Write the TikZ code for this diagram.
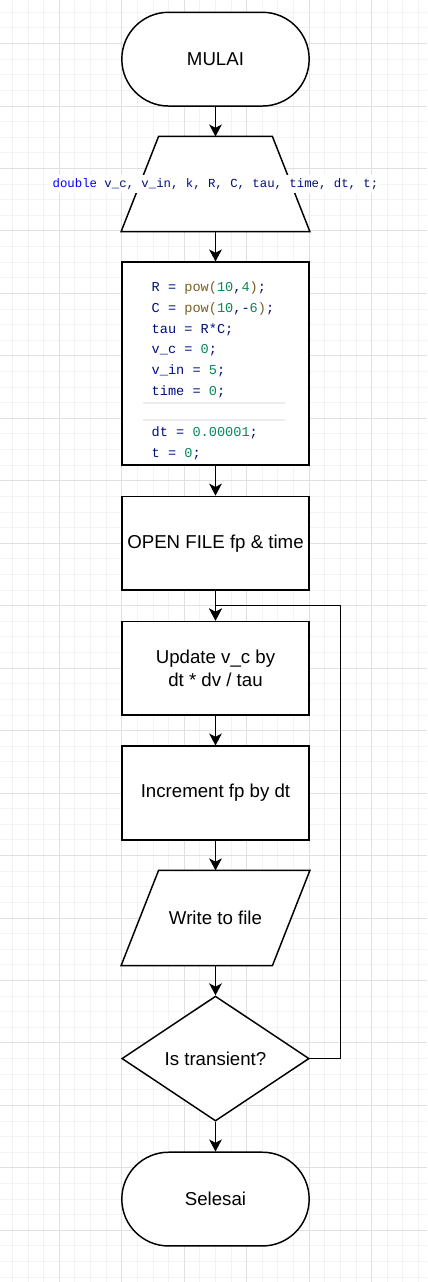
\documentclass[tikz,border=0pt]{standalone}
\usepackage{fontspec}
\setmainfont{Liberation Sans}
\newfontfamily\codefont{Liberation Mono}
\usepackage{tikz}
\usetikzlibrary{shapes.geometric,arrows.meta}

\definecolor{minorgrid}{RGB}{243,243,243}
\definecolor{majorgrid}{RGB}{224,224,224}
\definecolor{codekwcol}{RGB}{0,0,255}
\definecolor{codevarcol}{RGB}{0,16,128}
\definecolor{codefncol}{RGB}{121,94,38}
\definecolor{codenumcol}{RGB}{9,134,88}
\definecolor{coderule}{RGB}{236,236,236}

\newcommand{\codekw}[1]{\textcolor{codekwcol}{#1}}
\newcommand{\codefn}[1]{\textcolor{codefncol}{#1}}
\newcommand{\codenum}[1]{\textcolor{codenumcol}{#1}}

\begin{document}
\begin{tikzpicture}[x=1.1711pt, y=-1.1711pt,
  box/.style={draw, fill=white, line width=1.1pt, minimum width=140.5pt, minimum height=70.3pt,
    inner sep=2pt, align=center, font=\fontsize{14}{17}\selectfont},
  slot/.style={box, draw=none, fill=none},
  outline/.style={draw, fill=white, line width=1.1pt, line join=miter},
  terminal/.style={box, rounded corners=35.1pt},
  flow/.style={line width=1.1pt, -{Stealth[length=9pt,width=9.5pt,inset=2.5pt]}},
  code/.style={font=\codefont\fontsize{10.2}{15.5}\selectfont, text=codevarcol}]

\useasboundingbox (-78,-7.88) rectangle (195.45,813.1);

% background grid
\foreach \gx in {-70,-60,...,190}
  \draw[minorgrid, line width=0.75pt] (\gx,-7.88) -- (\gx,813.1);
\foreach \gy in {0,10,...,810}
  \draw[minorgrid, line width=0.75pt] (-78,\gy) -- (195.45,\gy);
\foreach \gx in {-40,0,...,160}
  \draw[majorgrid, line width=0.75pt] (\gx,-7.88) -- (\gx,813.1);
\foreach \gy in {20,60,...,780}
  \draw[majorgrid, line width=0.75pt] (-78,\gy) -- (195.45,\gy);

\node[terminal] (start) at (60,30) {MULAI};

% input: trapezoid
\node[slot] (decl) at (60,110) {};
\draw[outline] ([xshift=28.1pt]decl.north west) -- ([xshift=-28.1pt]decl.north east)
  -- (decl.south east) -- (decl.south west) -- cycle;
\node[code, font=\codefont\fontsize{9.25}{12}\selectfont, fill=white, inner xsep=1.5pt,
  inner ysep=2.5pt] (decltext) at (decl)
  {\codekw{double} v\_c, v\_in, k, R, C, tau, time, dt, t;};

\node[box, minimum height=152.2pt] (init) at (60,225) {};
\draw[coderule, line width=1.6pt] (13.8,250.4) -- (104.5,250.4);
\draw[coderule, line width=1.6pt] (13.8,261) -- (104.5,261);
\node[code, anchor=west, align=left, inner sep=0pt] (initcode) at (19,229.6)
  {R = \codefn{pow(}\codenum{10},\codenum{4}\codefn{)};\\
   C = \codefn{pow(}\codenum{10},-\codenum{6}\codefn{)};\\
   tau = R*C;\\
   v\_c = \codenum{0};\\
   v\_in = \codenum{5};\\
   time = \codenum{0};\\
   \mbox{}\\
   dt = \codenum{0.00001};\\
   t = \codenum{0};};

\node[box] (openfile) at (60,340) {OPEN FILE fp \& time};
\node[box] (update) at (60,420) {Update v\_c by\\dt * dv / tau};
\node[box] (increment) at (60,500) {Increment fp by dt};

% output: parallelogram
\node[slot] (writefile) at (60,580) {};
\draw[outline] ([xshift=28.1pt]writefile.north west) -- (writefile.north east)
  -- ([xshift=-28.1pt]writefile.south east) -- (writefile.south west) -- cycle;
\node[font=\fontsize{14}{17}\selectfont] (writetext) at (writefile) {Write to file};

\node[box, diamond, aspect=1.5, minimum height=93.7pt] (check) at (60,670) {Is transient?};
\node[terminal] (stop) at (60,760) {Selesai};

\draw[flow] (start.south) -- (decl.north);
\draw[flow] (decl.south) -- (init.north);
\draw[flow] (init.south) -- (openfile.north);
\draw[flow] (openfile.south) -- (update.north);
\draw[flow] (update.south) -- (increment.north);
\draw[flow] (increment.south) -- (writefile.north);
\draw[flow] (writefile.south) -- (check.north);
\draw[flow] (check.south) -- (stop.north);

\coordinate (loopcorner) at (140,380);
\draw[flow] (check.east) -| (loopcorner) -- (loopcorner -| update.north) -- (update.north);
\end{tikzpicture}
\end{document}
